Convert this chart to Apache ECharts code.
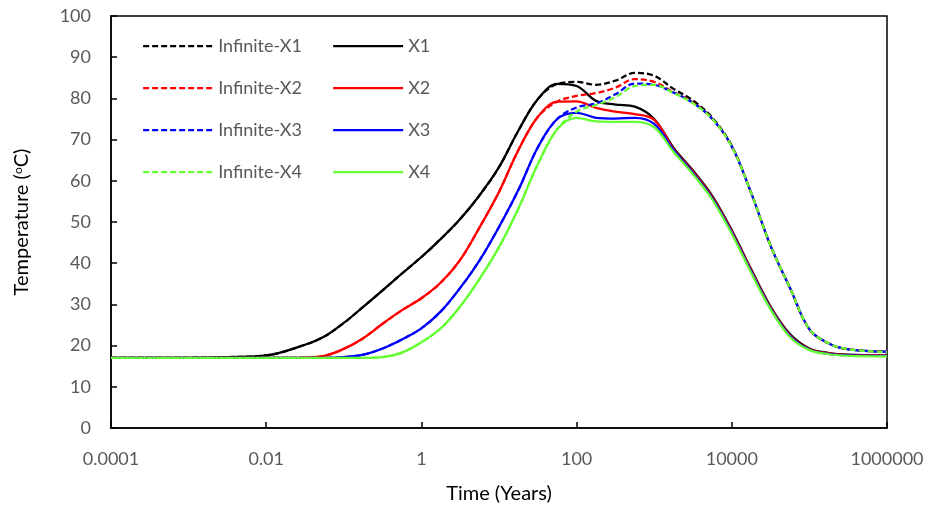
<!DOCTYPE html>
<html>
<head>
<meta charset="utf-8">
<script src="https://cdn.jsdelivr.net/npm/echarts@6/dist/echarts.min.js"></script>
<style>html,body{margin:0;padding:0;background:#fff}#c{width:932px;height:509px}</style>
</head>
<body>
<div id="c"></div>
<script>
// Time (years)
const times = [0.0001, 0.001, 0.00316, 0.01, 0.0316, 0.0562, 0.1, 0.178, 0.316, 0.562, 1, 1.78, 3.16, 5.62, 10, 17.8, 31.6, 56.2, 100, 178, 316, 562, 1000, 1780, 3160, 5620, 10000, 17800, 31600, 56200, 100000, 178000, 316000, 1000000];

const infX1 = [17, 17.05, 17.2, 17.6, 20.2, 22.2, 25.5, 29.4, 33.4, 37.5, 41.5, 45.9, 50.7, 56.5, 63.3, 72.2, 79.8, 83.5, 84, 83.3, 84.3, 86.2, 85.5, 82.3, 79.5, 75.3, 68.5, 57, 44.3, 34, 24, 20.5, 19.1, 18.5];
const x1    = [17, 17.05, 17.2, 17.6, 20.2, 22.2, 25.5, 29.4, 33.4, 37.5, 41.5, 45.9, 50.7, 56.5, 63.3, 72.2, 79.8, 83.5, 83, 79.4, 78.5, 78, 75, 68, 62.5, 56.3, 48, 38.5, 29.5, 22.8, 19.3, 18.2, 17.8, 17.6];
const infX2 = [17, 17, 17, 17, 17.1, 17.5, 19.2, 21.8, 25.3, 28.6, 31.5, 35.3, 40.8, 48.7, 57.3, 67.5, 75.5, 79.2, 80.6, 81.3, 82.6, 84.7, 84, 81.5, 79, 75, 68.3, 57, 44.2, 34, 24, 20.5, 19.1, 18.5];
const x2    = [17, 17, 17, 17, 17.1, 17.5, 19.2, 21.8, 25.3, 28.6, 31.5, 35.3, 40.8, 48.7, 57.3, 67.5, 75.5, 79.2, 79.3, 77.7, 76.8, 76.2, 74.8, 67.7, 62.2, 56, 47.7, 38.2, 29.2, 22.5, 19.1, 18.1, 17.7, 17.6];
const infX3 = [17, 17, 17, 17, 17, 17, 17.2, 17.8, 19.3, 21.5, 24.2, 28.3, 34, 40.7, 48.8, 57.8, 68.1, 75, 77.8, 78.8, 81, 83.6, 83.3, 81.4, 78.9, 75, 68.3, 57, 44.2, 34, 24, 20.5, 19.1, 18.5];
const x3    = [17, 17, 17, 17, 17, 17, 17.2, 17.8, 19.3, 21.5, 24.2, 28.3, 34, 40.7, 48.8, 57.8, 68.1, 75, 76.5, 75.3, 75.1, 75.3, 73.8, 67.4, 61.9, 55.7, 47.4, 37.9, 29, 22.3, 19, 18, 17.6, 17.5];
const infX4 = [17, 17, 17, 17, 17, 17, 17, 17, 17.2, 18.3, 20.8, 24.2, 29.5, 36.2, 43.9, 53.3, 64, 72.5, 76.8, 78.4, 80.3, 83, 83.3, 81.3, 78.8, 75, 68.3, 57, 44.2, 34, 24, 20.5, 19.1, 18.4];
const x4    = [17, 17, 17, 17, 17, 17, 17, 17, 17.2, 18.3, 20.8, 24.2, 29.5, 36.2, 43.9, 53.3, 64, 72.5, 75.3, 74.4, 74.3, 74.3, 73, 67, 61.6, 55.4, 47.1, 37.6, 28.8, 22.1, 18.9, 17.9, 17.5, 17.4];

const dashedNames = ['Infinite-X1', 'Infinite-X2', 'Infinite-X3', 'Infinite-X4'];
const solidNames = ['X1', 'X2', 'X3', 'X4'];
const xTickLabels = ['0.0001', '0.01', '1', '100', '10000', '1000000'];

const colors = ['#000000', '#ff0000', '#0000ff', '#66ff33'];
const dashedData = [infX1, infX2, infX3, infX4];
const solidData = [x1, x2, x3, x4];

function pairs(arr) { return times.map((t, i) => [t, arr[i]]); }

const series = [];
for (let i = 0; i < 4; i++) {
  series.push({
    name: dashedNames[i], type: 'line', data: pairs(dashedData[i]), symbol: 'none', smooth: 0.35,
    lineStyle: { color: colors[i], width: 2.25, type: [6, 3] }, itemStyle: { color: colors[i] }, z: 3
  });
  series.push({
    name: solidNames[i], type: 'line', data: pairs(solidData[i]), symbol: 'none', smooth: 0.35,
    lineStyle: { color: colors[i], width: 2.25 }, itemStyle: { color: colors[i] }, z: 2
  });
}

const font = 'Lato, "Open Sans", sans-serif';
const legendBase = { orient: 'vertical', top: 32, itemWidth: 70, itemHeight: 18, itemGap: 24,
  itemStyle: { opacity: 0, borderWidth: 0 }, lineStyle: { width: 2.25 },
  textStyle: { fontSize: 18, color: '#595959', fontFamily: font } };
const chart = echarts.init(document.getElementById('c'), null, { renderer: 'canvas' });
chart.setOption({
  animation: false,
  backgroundColor: '#fff',
  textStyle: { fontFamily: font },
  grid: { left: 111, right: 45, top: 16, bottom: 79, show: true, borderColor: '#000', borderWidth: 1.5 },
  legend: [
    Object.assign({}, legendBase, { data: dashedNames, left: 137 }),
    Object.assign({}, legendBase, { data: solidNames, left: 327 })
  ],
  xAxis: {
    type: 'log', logBase: 10, min: 0.0001, max: 1000000, interval: 2,
    name: 'Time (Years)', nameLocation: 'middle', nameGap: 56,
    nameTextStyle: { fontSize: 20, color: '#000', fontFamily: font },
    axisLine: { lineStyle: { color: '#000', width: 1.5 } },
    axisTick: { inside: true, length: 6, lineStyle: { color: '#000', width: 1.5 } },
    axisLabel: {
      fontSize: 18, color: '#595959', margin: 22, fontFamily: font,
      formatter: function (v) {
        const e = Math.round(Math.log10(v));
        const idx = (e + 4) / 2;
        return Number.isInteger(idx) && xTickLabels[idx] !== undefined ? xTickLabels[idx] : '';
      }
    },
    splitLine: { show: false }, minorTick: { show: false }
  },
  yAxis: {
    type: 'value', min: 0, max: 100, interval: 10,
    name: 'Temperature ({s|o}C)', nameLocation: 'middle', nameGap: 79,
    nameTextStyle: { fontSize: 20, color: '#000', fontFamily: font,
      rich: { s: { fontSize: 12, verticalAlign: 'top', fontFamily: font, color: '#000', padding: [0, 0, 8, 0] } } },
    axisLine: { show: true, lineStyle: { color: '#000', width: 1.5 } },
    axisTick: { show: true, inside: true, length: 6, lineStyle: { color: '#000', width: 1.5 } },
    axisLabel: { fontSize: 18, color: '#595959', margin: 20, fontFamily: font },
    splitLine: { show: false }
  },
  series: series
});
</script>
</body>
</html>
